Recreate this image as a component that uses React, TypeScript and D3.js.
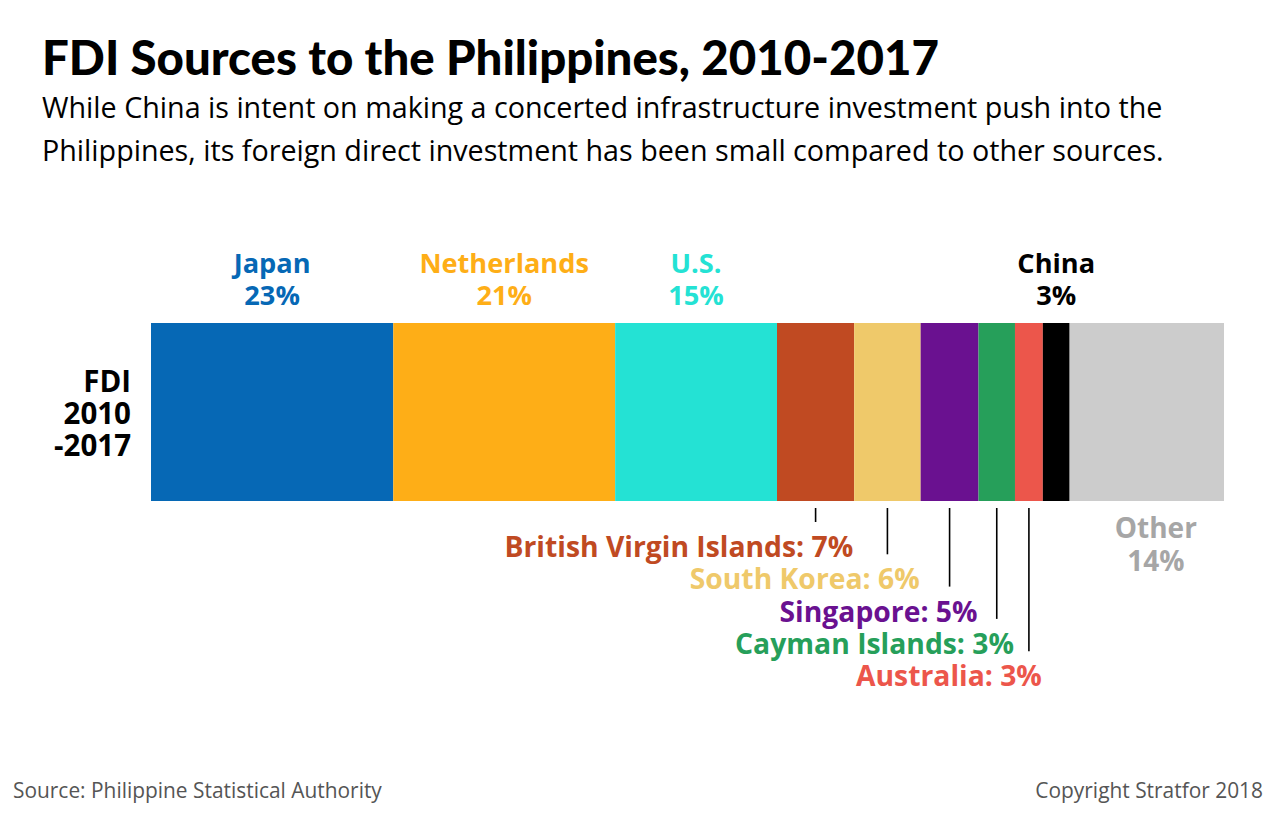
import React, { useEffect, useRef } from 'react';
import * as d3 from 'd3';

// FDI share by source country, 2010-2017 (percent of total)
const sources = ['Japan', 'Netherlands', 'U.S.', 'British Virgin Islands', 'South Korea', 'Singapore', 'Cayman Islands', 'Australia', 'China', 'Other'];
const shares = [22.6, 20.7, 15.1, 7.2, 6.2, 5.4, 3.4, 2.6, 2.5, 14.4];
const shareLabels = ['23%', '21%', '15%', '7%', '6%', '5%', '3%', '3%', '3%', '14%'];
const colors = ['#0668b5', '#feae17', '#24e2d4', '#c04a22', '#efc96a', '#6a1190', '#269f5a', '#ec564b', '#000000', '#cccccc'];

// how each segment gets labelled
const topLabeled = ['Japan', 'Netherlands', 'U.S.', 'China'];
const callouts = ['British Virgin Islands', 'South Korea', 'Singapore', 'Cayman Islands', 'Australia'];
const rowLabel = ['FDI', '2010', '-2017'];

const FONT = '"Open Sans", Lato, sans-serif';
const TITLE_FONT = 'Lato, "Open Sans", sans-serif';

const App: React.FC = () => {
  const svgRef = useRef<SVGSVGElement>(null);

  useEffect(() => {
    if (!svgRef.current) return;
    const svg = d3.select(svgRef.current);
    svg.selectAll('*').remove();

    const width = 1280;
    const height = 824;
    const bar = { left: 151, right: 1224, top: 323, bottom: 501 };

    const total = d3.sum(shares);
    const x = d3.scaleLinear().domain([0, total]).range([bar.left, bar.right]);
    const ends = Array.from(d3.cumsum(shares));
    const segs = sources.map((name, i) => ({
      name,
      value: shares[i],
      label: shareLabels[i],
      color: colors[i],
      x0: x(ends[i] - shares[i]),
      x1: x(ends[i]),
    }));

    svg.append('rect').attr('width', width).attr('height', height).attr('fill', '#fff');

    // Title + subtitle
    svg.append('text')
      .attr('x', 42).attr('y', 75)
      .attr('font-family', TITLE_FONT).attr('font-weight', 900).attr('font-size', 47.4)
      .attr('fill', '#000')
      .text('FDI Sources to the Philippines, 2010-2017');

    const sub = [
      'While China is intent on making a concerted infrastructure investment push into the',
      'Philippines, its foreign direct investment has been small compared to other sources.',
    ];
    svg.append('g').selectAll('text').data(sub).enter().append('text')
      .attr('x', 42).attr('y', (_, i) => 118 + i * 43)
      .attr('font-family', FONT).attr('font-size', 28.7).attr('fill', '#000')
      .text(d => d);

    // Bar segments
    svg.append('g').selectAll('rect').data(segs).enter().append('rect')
      .attr('x', d => d.x0)
      .attr('y', bar.top)
      .attr('width', d => d.x1 - d.x0)
      .attr('height', bar.bottom - bar.top)
      .attr('fill', d => d.color);

    // Row label
    svg.append('g').selectAll('text').data(rowLabel).enter().append('text')
      .attr('x', 131).attr('y', (_, i) => 392 + i * 32)
      .attr('text-anchor', 'end')
      .attr('font-family', FONT).attr('font-weight', 700).attr('font-size', 29.5)
      .attr('fill', '#000')
      .text(d => d);

    // Labels above the bar
    const top = svg.append('g').selectAll('g')
      .data(segs.filter(d => topLabeled.includes(d.name)))
      .enter().append('g')
      .attr('font-family', FONT).attr('font-weight', 700).attr('font-size', 27.2)
      .attr('text-anchor', 'middle')
      .attr('fill', d => d.color);
    top.append('text').attr('x', d => (d.x0 + d.x1) / 2).attr('y', 273).text(d => d.name);
    top.append('text').attr('x', d => (d.x0 + d.x1) / 2).attr('y', 305).text(d => d.label);

    // Callouts below the bar with leader lines
    const callSegs = segs.filter(d => callouts.includes(d.name));
    const call = svg.append('g').selectAll('g').data(callSegs).enter().append('g');
    call.append('line')
      .attr('x1', d => (d.x0 + d.x1) / 2)
      .attr('x2', d => (d.x0 + d.x1) / 2)
      .attr('y1', 508)
      .attr('y2', (_, i) => 557 + i * 32.3 - 35)
      .attr('stroke', '#000').attr('stroke-width', 1.6);
    call.append('text')
      .attr('x', d => d.x1 - 1)
      .attr('y', (_, i) => 557 + i * 32.3)
      .attr('text-anchor', 'end')
      .attr('font-family', FONT).attr('font-weight', 700).attr('font-size', 28.3)
      .attr('fill', d => d.color)
      .text(d => `${d.name}: ${d.label}`);

    // Other label
    const other = segs[segs.length - 1];
    const og = svg.append('g')
      .attr('font-family', FONT).attr('font-weight', 700).attr('font-size', 28)
      .attr('text-anchor', 'middle').attr('fill', '#a6a6a6');
    og.append('text').attr('x', (other.x0 + other.x1) / 2 + 9).attr('y', 538).text(other.name);
    og.append('text').attr('x', (other.x0 + other.x1) / 2 + 9).attr('y', 571).text(other.label);

    // Footer
    svg.append('text')
      .attr('x', 13).attr('y', 798)
      .attr('font-family', FONT).attr('font-size', 20.9).attr('fill', '#555')
      .text('Source: Philippine Statistical Authority');
    svg.append('text')
      .attr('x', 1263).attr('y', 798).attr('text-anchor', 'end')
      .attr('font-family', FONT).attr('font-size', 20.9).attr('fill', '#555')
      .text('Copyright Stratfor 2018');
  }, []);

  return (
    <svg
      ref={svgRef}
      width={1280}
      height={824}
      viewBox="0 0 1280 824"
      style={{ display: 'block', position: 'absolute', left: 0, top: 0 }}
    />
  );
};

export default App;
